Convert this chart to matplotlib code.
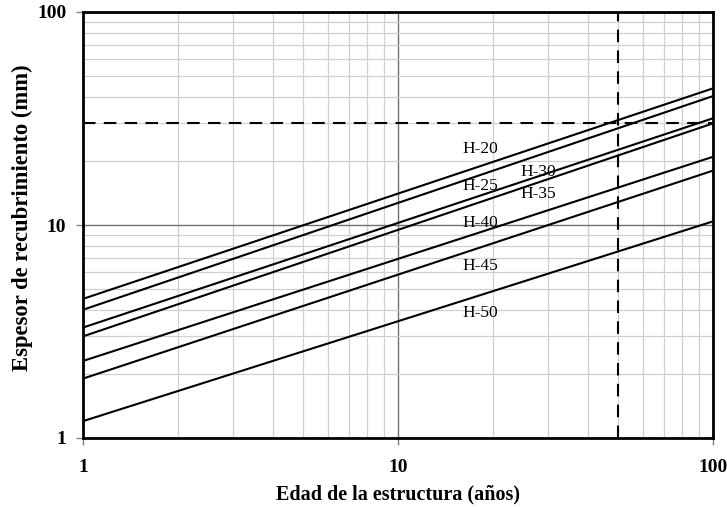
import matplotlib
matplotlib.use("Agg")
import matplotlib.pyplot as plt
from matplotlib.ticker import LogLocator, FixedLocator, NullFormatter, FixedFormatter

plt.rcParams['font.family'] = ['Liberation Serif', 'DejaVu Serif']

# Data: coating thickness lines (value at 1 year and at 100 years)
series_names = ["H-20", "H-25", "H-30", "H-35", "H-40", "H-45", "H-50"]
years = [1, 100]
thick_at_1 = [4.5, 4.0, 3.3, 3.0, 2.3, 1.9, 1.2]
thick_at_100 = [43.8, 40.3, 31.7, 30.0, 20.9, 18.0, 10.4]

# Label positions (data coords)
label_x = [18.2, 18.2, 27.8, 27.8, 18.2, 18.2, 18.2]
label_y = [22.8, 15.3, 17.8, 14.0, 10.2, 6.4, 3.85]

ref_thickness = 30
ref_age = 50

xticks = [1, 10, 100]
yticks = [1, 10, 100]

fig = plt.figure(figsize=(7.27, 5.07), dpi=100)
ax = fig.add_axes([83/727, 69/507, 630/727, 426/507])
ax.set_xscale('log')
ax.set_yscale('log')
ax.set_xlim(1, 100)
ax.set_ylim(1, 100)

# grid
ax.xaxis.set_minor_locator(LogLocator(base=10, subs=range(2, 10)))
ax.yaxis.set_minor_locator(LogLocator(base=10, subs=range(2, 10)))
ax.xaxis.set_minor_formatter(NullFormatter())
ax.yaxis.set_minor_formatter(NullFormatter())
ax.grid(which='minor', color='#d0d0d0', linewidth=0.9)
ax.grid(which='major', color='#707070', linewidth=1.0)
ax.set_axisbelow(True)
ax.tick_params(which='minor', length=0)

for a, b in zip(thick_at_1, thick_at_100):
    ax.plot(years, [a, b], color='black', linewidth=1.5, solid_capstyle='butt')

ax.plot([1, 100], [ref_thickness, ref_thickness], color='black', linewidth=1.5, linestyle=(0, (6, 4)))
ax.plot([ref_age, ref_age], [1, 100], color='black', linewidth=1.5, linestyle=(0, (6, 4)))

for name, lx, ly in zip(series_names, label_x, label_y):
    ax.text(lx, ly, name, fontsize=12.5, ha='center', va='center')

ax.xaxis.set_major_locator(FixedLocator(xticks))
ax.yaxis.set_major_locator(FixedLocator(yticks))
ax.xaxis.set_major_formatter(FixedFormatter([str(t) for t in xticks]))
ax.yaxis.set_major_formatter(FixedFormatter([str(t) for t in yticks]))
ax.tick_params(which='major', length=5, width=1, color='#808080', labelsize=14)
ax.tick_params(axis='x', pad=10)
ax.tick_params(axis='y', pad=7)
for lbl in ax.get_xticklabels() + ax.get_yticklabels():
    lbl.set_fontweight('bold')

for s in ax.spines.values():
    s.set_linewidth(2)
    s.set_color('black')

ax.set_xlabel('Edad de la estructura (años)', fontsize=14.5, fontweight='bold')
ax.set_ylabel('Espesor de recubrimiento (mm)', fontsize=16.3, fontweight='bold')
ax.xaxis.set_label_coords(0.5, (438 - 494) / 426, transform=ax.transAxes)
ax.yaxis.set_label_coords((22 - 83) / 630, (438 - 218) / 426, transform=ax.transAxes)
ax.xaxis.label.set_va('center')
ax.yaxis.label.set_va('center')

fig.savefig('out.png', dpi=100)
